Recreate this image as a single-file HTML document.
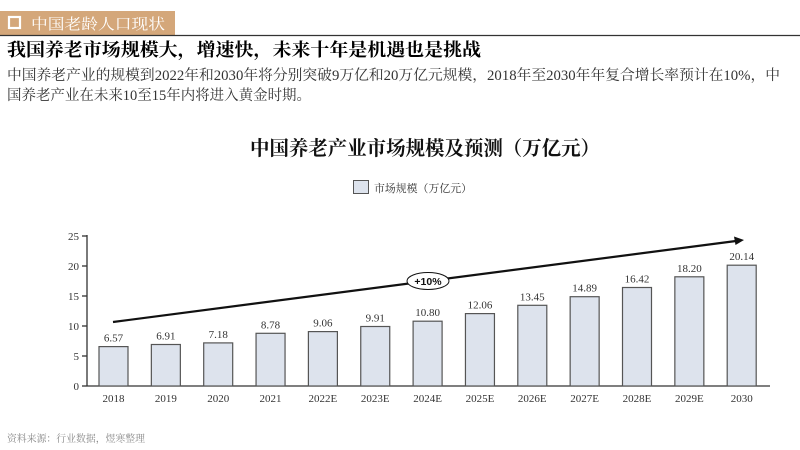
<!DOCTYPE html>
<html><head><meta charset="utf-8"><style>
body{margin:0;background:#fff;}
svg{display:block;}
</style></head><body>
<svg width="800" height="450" viewBox="0 0 800 450" xmlns="http://www.w3.org/2000/svg">
<rect x="0" y="11" width="175" height="24" fill="#D4A77A"/>
<rect x="9" y="17" width="11" height="11" fill="none" stroke="#fff" stroke-width="2.2"/>
<text x="31" y="29" font-family="'Liberation Serif','Noto Serif CJK SC',serif" font-size="15" fill="#fff" textLength="134" lengthAdjust="spacingAndGlyphs">中国老龄人口现状</text>
<line x1="0" y1="35.5" x2="800" y2="35.5" stroke="#333" stroke-width="1.2"/>
<text x="7" y="56" font-family="'Liberation Serif','Noto Serif CJK SC',serif" font-size="18" font-weight="bold" fill="#000" textLength="474" lengthAdjust="spacingAndGlyphs">我国养老市场规模大，增速快，未来十年是机遇也是挑战</text>
<g font-family="'Liberation Serif','Noto Serif CJK SC',serif" font-size="14.5" fill="#333">
<text x="7" y="80" textLength="773" lengthAdjust="spacingAndGlyphs">中国养老产业的规模到2022年和2030年将分别突破9万亿和20万亿元规模，2018年至2030年年复合增长率预计在10%，中</text>
<text x="7" y="100" textLength="304" lengthAdjust="spacingAndGlyphs">国养老产业在未来10至15年内将进入黄金时期。</text>
</g>
<text x="250" y="155" font-family="'Liberation Serif','Noto Serif CJK SC',serif" font-size="20" font-weight="bold" fill="#111" textLength="350" lengthAdjust="spacingAndGlyphs">中国养老产业市场规模及预测（万亿元）</text>
<rect x="353.5" y="180.5" width="15" height="13" fill="#DDE3ED" stroke="#555" stroke-width="1"/>
<text x="374" y="192" font-family="'Liberation Serif','Noto Serif CJK SC',serif" font-size="11" fill="#333" textLength="98" lengthAdjust="spacingAndGlyphs">市场规模（万亿元）</text>
<g stroke="#333" stroke-width="1.3">
<line x1="87" y1="235" x2="87" y2="386"/>
<line x1="87" y1="386" x2="770" y2="386"/>
<line x1="82" y1="236" x2="87" y2="236"/><line x1="82" y1="266" x2="87" y2="266"/><line x1="82" y1="296" x2="87" y2="296"/><line x1="82" y1="326" x2="87" y2="326"/><line x1="82" y1="356" x2="87" y2="356"/><line x1="82" y1="386" x2="87" y2="386"/>
</g>
<g font-family="'Liberation Serif',serif" font-size="11" fill="#333" text-anchor="end">
<text x="79" y="240">25</text><text x="79" y="270">20</text><text x="79" y="300">15</text><text x="79" y="330">10</text><text x="79" y="360">5</text><text x="79" y="390">0</text>
</g>
<g fill="#DDE3ED" stroke="#555" stroke-width="1.2">
<rect x="99" y="346.6" width="29" height="39.4"/>
<rect x="151.35" y="344.5" width="29" height="41.5"/>
<rect x="203.7" y="342.9" width="29" height="43.1"/>
<rect x="256.05" y="333.3" width="29" height="52.7"/>
<rect x="308.4" y="331.6" width="29" height="54.4"/>
<rect x="360.75" y="326.5" width="29" height="59.5"/>
<rect x="413.1" y="321.2" width="29" height="64.8"/>
<rect x="465.45" y="313.6" width="29" height="72.4"/>
<rect x="517.8" y="305.3" width="29" height="80.7"/>
<rect x="570.15" y="296.7" width="29" height="89.3"/>
<rect x="622.5" y="287.5" width="29" height="98.5"/>
<rect x="674.85" y="276.8" width="29" height="109.2"/>
<rect x="727.2" y="265.2" width="29" height="120.8"/>
</g>
<g font-family="'Liberation Serif',serif" font-size="11" fill="#333" text-anchor="middle">
<text x="113.5" y="341.6">6.57</text>
<text x="165.85" y="339.5">6.91</text>
<text x="218.2" y="337.9">7.18</text>
<text x="270.55" y="328.3">8.78</text>
<text x="322.9" y="326.6">9.06</text>
<text x="375.25" y="321.5">9.91</text>
<text x="427.6" y="316.2">10.80</text>
<text x="479.95" y="308.6">12.06</text>
<text x="532.3" y="300.3">13.45</text>
<text x="584.65" y="291.7">14.89</text>
<text x="637" y="282.5">16.42</text>
<text x="689.35" y="271.8">18.20</text>
<text x="741.7" y="260.2">20.14</text>
<text x="113.5" y="402">2018</text>
<text x="165.85" y="402">2019</text>
<text x="218.2" y="402">2020</text>
<text x="270.55" y="402">2021</text>
<text x="322.9" y="402">2022E</text>
<text x="375.25" y="402">2023E</text>
<text x="427.6" y="402">2024E</text>
<text x="479.95" y="402">2025E</text>
<text x="532.3" y="402">2026E</text>
<text x="584.65" y="402">2027E</text>
<text x="637" y="402">2028E</text>
<text x="689.35" y="402">2029E</text>
<text x="741.7" y="402">2030</text>
</g>
<line x1="113" y1="322" x2="736" y2="241" stroke="#111" stroke-width="2.2"/>
<polygon points="744,240 734,236.5 735.5,245" fill="#111"/>
<ellipse cx="428" cy="281" rx="21" ry="8.5" fill="#fff" stroke="#111" stroke-width="1"/>
<text x="428" y="285" font-family="'Liberation Sans',sans-serif" font-size="10.5" font-weight="bold" fill="#111" text-anchor="middle">+10%</text>
<text x="7" y="442" font-family="'Liberation Serif','Noto Serif CJK SC',serif" font-size="10" fill="#888" textLength="138" lengthAdjust="spacingAndGlyphs">资料来源：行业数据，煜寒整理</text>
</svg>
</body></html>
